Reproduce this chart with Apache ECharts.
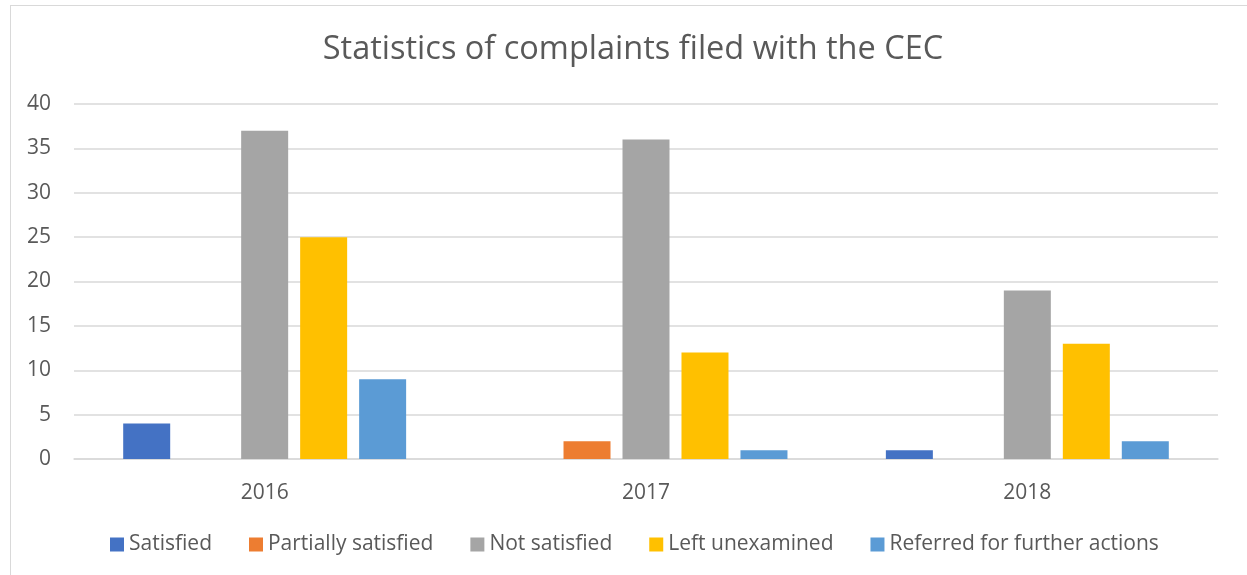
<!DOCTYPE html>
<html><head><meta charset="utf-8">
<script src="https://cdn.jsdelivr.net/npm/echarts@6/dist/echarts.min.js"></script>
<style>
html,body{margin:0;padding:0;background:#fff;}
#frame{position:absolute;left:10px;top:5px;width:1240px;height:575px;border-left:1.5px solid #d9d9d9;border-top:1.5px solid #d9d9d9;}
#c{position:absolute;left:0;top:0;width:1247px;height:575px;}
</style></head>
<body>
<div id="frame"></div>
<div id="c"></div>
<script>
const categories = ['2016', '2017', '2018'];
const seriesNames = ['Satisfied', 'Partially satisfied', 'Not satisfied', 'Left unexamined', 'Referred for further actions'];
const satisfied = [4, 0, 1];
const partiallySatisfied = [0, 2, 0];
const notSatisfied = [37, 36, 19];
const leftUnexamined = [25, 12, 13];
const referred = [9, 1, 2];
const colors = ['#4472C4', '#ED7D31', '#A5A5A5', '#FFC000', '#5B9BD5'];
const values = [satisfied, partiallySatisfied, notSatisfied, leftUnexamined, referred];
const font = '"Open Sans", "Noto Sans", sans-serif';

const chart = echarts.init(document.getElementById('c'));
chart.setOption({
  animation: false,
  backgroundColor: 'transparent',
  title: {
    text: 'Statistics of complaints filed with the CEC',
    left: 628, textAlign: 'center', top: 28,
    textStyle: {fontFamily: font, fontSize: 32.5, fontWeight: 'normal', color: '#595959'}
  },
  legend: {
    bottom: 15, left: 105,
    itemWidth: 14, itemHeight: 14, itemGap: 37, icon: 'rect',
    textStyle: {fontFamily: font, fontSize: 21, color: '#595959'},
    data: seriesNames
  },
  grid: {left: 74, right: 29, top: 104, bottom: 116, containLabel: false},
  xAxis: {
    type: 'category', data: categories,
    axisLine: {lineStyle: {color: '#d9d9d9', width: 1.5}},
    axisTick: {show: false},
    axisLabel: {fontFamily: font, fontSize: 21, color: '#595959', margin: 24}
  },
  yAxis: {
    type: 'value', min: 0, max: 40, interval: 5,
    axisLine: {show: false}, axisTick: {show: false},
    splitLine: {lineStyle: {color: '#d9d9d9', width: 1.5}},
    axisLabel: {fontFamily: font, fontSize: 21, color: '#595959', margin: 23}
  },
  series: seriesNames.map((n, i) => ({
    name: n, type: 'bar', data: values[i], barWidth: 47, barGap: '25.5%',
    itemStyle: {color: colors[i]}
  }))
});
</script>
</body></html>
